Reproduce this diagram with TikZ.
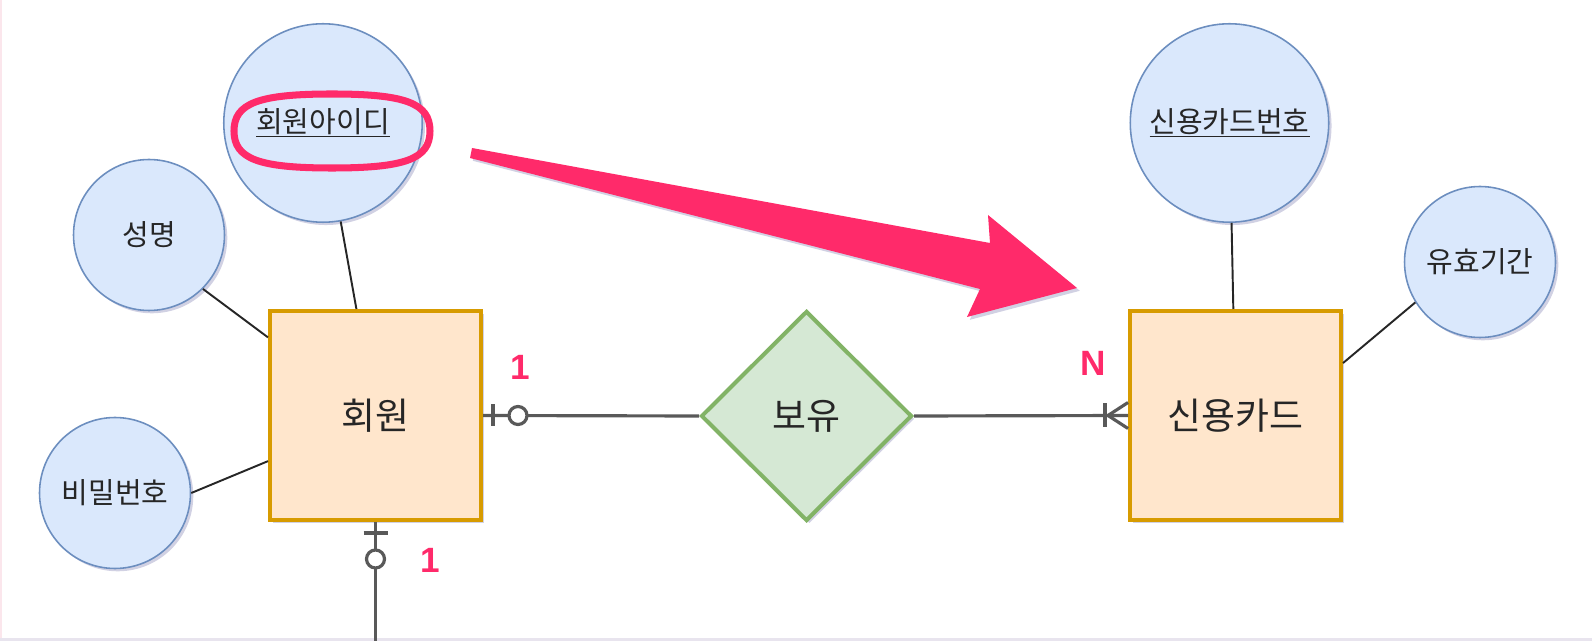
\documentclass[tikz,border=0pt]{standalone}
\usepackage{fontspec}
\setmainfont{Noto Sans CJK KR}
\newfontfamily\labfont{Liberation Sans}
\usetikzlibrary{shapes.geometric,shadows}
\definecolor{attrfill}{HTML}{DAE8FC}
\definecolor{attrline}{HTML}{6C8EBF}
\definecolor{entfill}{HTML}{FFE6CC}
\definecolor{entline}{HTML}{D79B00}
\definecolor{relfill}{HTML}{D5E8D4}
\definecolor{relline}{HTML}{82B366}
\definecolor{hot}{HTML}{FF2A6A}
\definecolor{edgepink}{HTML}{FBE6EC}
\definecolor{edgegray}{HTML}{E8E4EE}

\begin{document}
\begin{tikzpicture}[x=0.02cm, y=-0.02cm,
	dropsh/.style={drop shadow={shadow xshift=1.6pt, shadow yshift=-1.6pt, opacity=0.18, fill=black!60!blue}},
	attr/.style={circle, draw=attrline, fill=attrfill, line width=0.9pt, inner sep=0pt, text=black!85, font=\fontsize{16.5pt}{19pt}\selectfont, dropsh},
	entity/.style={rectangle, draw=entline, fill=entfill, line width=2.3pt, minimum width=4.22cm, minimum height=4.18cm, text=black!85, font=\fontsize{21pt}{24pt}\selectfont, dropsh},
	rel/.style={diamond, draw=relline, fill=relfill, line width=2.3pt, minimum width=4.22cm, minimum height=4.2cm, inner sep=0pt, text=black!85, font=\fontsize{21pt}{24pt}\selectfont, dropsh},
	card/.style={text=hot, font=\labfont\bfseries\fontsize{20pt}{22pt}\selectfont},
	link/.style={line width=1.1pt, black!85},
	rline/.style={line width=1.8pt, black!65}]
		\useasboundingbox (0,0) rectangle (1592,641);
		\fill[edgepink] (0,0) rectangle (2,641);
		\fill[edgegray] (0,638) rectangle (1592,641);
		\node[entity] (member) at (375.5,415.5) {회원};
		\node[entity] (card) at (1235.5,415.5) {신용카드};
		\node[rel] (own) at (806.5,416) {보유};
		\node[attr, minimum size=3.97cm] (mid) at (323,123) {\underline{회원아이디}};
		\node[attr, minimum size=3.02cm] (name) at (149,235) {성명};
		\node[attr, minimum size=3.02cm] (pw) at (115,493) {비밀번호};
		\node[attr, minimum size=3.97cm] (cno) at (1229.5,123) {\underline{신용카드번호}};
		\node[attr, minimum size=3.02cm] (term) at (1480,262) {유효기간};
		\coordinate (bottomend) at (375.5,645);
		\draw[link] (mid) -- (member);
		\draw[link] (name.315) -- (member.144);
		\draw[link] (pw.east) -- (member.203);
		\draw[link] (cno) -- (card);
		\draw[link] (term.212) -- (card.26);
		\draw[rline] (member.east) -- (own.west);
		\draw[rline] (own.east) -- (card.west);
		\draw[rline] (member.south) -- (bottomend);
		\draw[rline] ([xshift=0.2cm]member.east) ++(0,-11) -- ++(0,22);
		\draw[rline, fill=white] ([xshift=0.7cm]member.east) circle (0.18cm);
		\draw[rline] ([yshift=-0.22cm]member.south) ++(-12,0) -- ++(24,0);
		\draw[rline, fill=white] ([yshift=-0.74cm]member.south) circle (0.18cm);
		\draw[rline] ([xshift=-0.46cm]card.west) ++(0,-12) -- ++(0,24);
		\draw[rline] ([xshift=-0.4cm]card.west) -- ([yshift=0.26cm]card.west);
		\draw[rline] ([xshift=-0.4cm]card.west) -- ([yshift=-0.26cm]card.west);
		\node[card] (one1) at (520,367) {1};
		\node[card] (many) at (1093,363) {N};
		\node[card] (one2) at (430,560) {1};
		\fill[hot, dropsh] (472,148) -- (990,243) -- (988,215) -- (1077,288) -- (967,317) -- (980,289) -- (470,158) -- cycle;
		\draw[hot, line width=4pt] (234,131) .. controls (234,103) and (259,94) .. (332,94) .. controls (405,94) and (430,103) .. (430,131) .. controls (430,159) and (405,168) .. (332,168) .. controls (259,168) and (234,159) .. (234,131) -- cycle;
	\end{tikzpicture}
\end{document}
